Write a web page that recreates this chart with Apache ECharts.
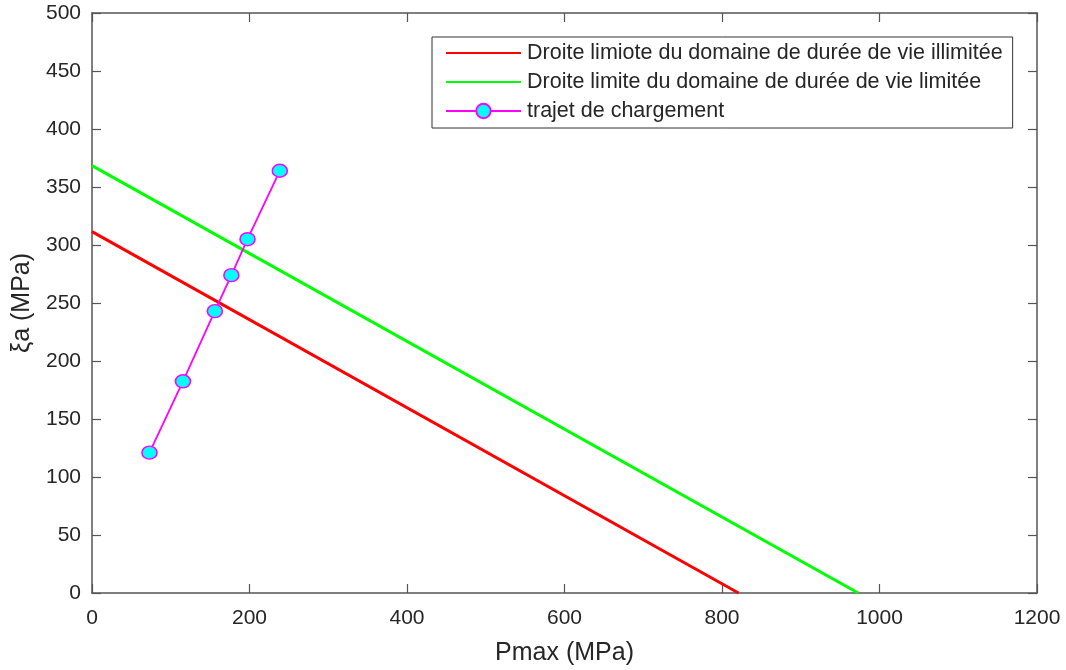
<!DOCTYPE html>
<html>
<head>
<meta charset="utf-8">
<script src="https://cdn.jsdelivr.net/npm/echarts@6/dist/echarts.min.js"></script>
<style>
  html, body { margin: 0; padding: 0; background: #ffffff; }
  #chart { width: 1066px; height: 670px; }
</style>
</head>
<body>
<div id="chart"></div>
<script>
// Limit lines: [Pmax, xi_a] end points
const unlimitedLifeLine = [[0, 311.5], [821, 0]];
const limitedLifeLine = [[0, 368.4], [973, 0]];

// Loading path points
const loadPathPmax = [73, 115.5, 156, 177, 197.5, 238.5];
const loadPathXi = [121, 182.5, 243, 274, 305, 364];

const seriesNames = [
  'Droite limiote du domaine de durée de vie illimitée',
  'Droite limite du domaine de durée de vie limitée',
  'trajet de chargement'
];

const xMin = 0, xMax = 1200, xStep = 200;
const yMin = 0, yMax = 500, yStep = 50;

const FONT = '"Liberation Sans", Arial, Helvetica, sans-serif';
const TEXT = '#262626';
const AXIS = '#555555';

const chart = echarts.init(document.getElementById('chart'), null, { renderer: 'canvas' });

function axisBase(extra) {
  return Object.assign({
    type: 'value',
    axisLine: { show: true, onZero: false, lineStyle: { color: AXIS, width: 1.5 } },
    axisTick: { show: true, inside: true, length: 9, lineStyle: { color: AXIS, width: 1.2 } },
    splitLine: { show: false }
  }, extra);
}

const plainNumber = v => String(v);

chart.setOption({
  animation: false,
  backgroundColor: '#ffffff',
  grid: { left: 92, right: 29, top: 13, bottom: 77, containLabel: false, outerBoundsMode: 'none' },
  legend: {
    orient: 'vertical',
    left: 432,
    top: 37,
    padding: [5, 10, 6, 13],
    itemGap: 7,
    itemWidth: 75,
    itemHeight: 18,
    borderColor: '#333333',
    borderWidth: 1,
    backgroundColor: '#ffffff',
    textStyle: { fontFamily: FONT, fontSize: 21.5, color: TEXT, padding: [0, 0, 0, 1] },
    data: [
      { name: seriesNames[0], itemStyle: { opacity: 0 } },
      { name: seriesNames[1], itemStyle: { opacity: 0 } },
      { name: seriesNames[2] }
    ]
  },
  xAxis: [
    axisBase({
      min: xMin, max: xMax, interval: xStep,
      name: 'Pmax (MPa)', nameLocation: 'middle', nameGap: 48,
      nameTextStyle: { fontFamily: FONT, fontSize: 25, color: TEXT },
      axisLabel: { fontFamily: FONT, fontSize: 21, color: TEXT, margin: 15, formatter: plainNumber }
    }),
    axisBase({
      min: xMin, max: xMax, interval: xStep, position: 'top',
      axisLabel: { show: false }
    })
  ],
  yAxis: [
    axisBase({
      min: yMin, max: yMax, interval: yStep,
      name: 'ξa (MPa)', nameLocation: 'middle', nameGap: 57,
      nameTextStyle: { fontFamily: FONT, fontSize: 25, color: TEXT },
      axisLabel: { fontFamily: FONT, fontSize: 21, color: TEXT, margin: 11, formatter: plainNumber }
    }),
    axisBase({
      min: yMin, max: yMax, interval: yStep, position: 'right',
      axisLabel: { show: false }
    })
  ],
  series: [
    {
      name: seriesNames[0], type: 'line', symbol: 'none',
      data: unlimitedLifeLine,
      lineStyle: { color: '#ff0000', width: 3 },
      itemStyle: { color: '#ff0000' }
    },
    {
      name: seriesNames[1], type: 'line', symbol: 'none',
      data: limitedLifeLine,
      lineStyle: { color: '#00ff00', width: 3 },
      itemStyle: { color: '#00ff00' }
    },
    {
      name: seriesNames[2], type: 'line', symbol: 'circle', symbolSize: [15, 13],
      data: loadPathPmax.map((p, i) => [p, loadPathXi[i]]),
      lineStyle: { color: '#ff00ff', width: 1.8 },
      itemStyle: { color: '#00ffff', borderColor: '#ff00ff', borderWidth: 1.5 },
      z: 3
    }
  ]
});
</script>
</body>
</html>
